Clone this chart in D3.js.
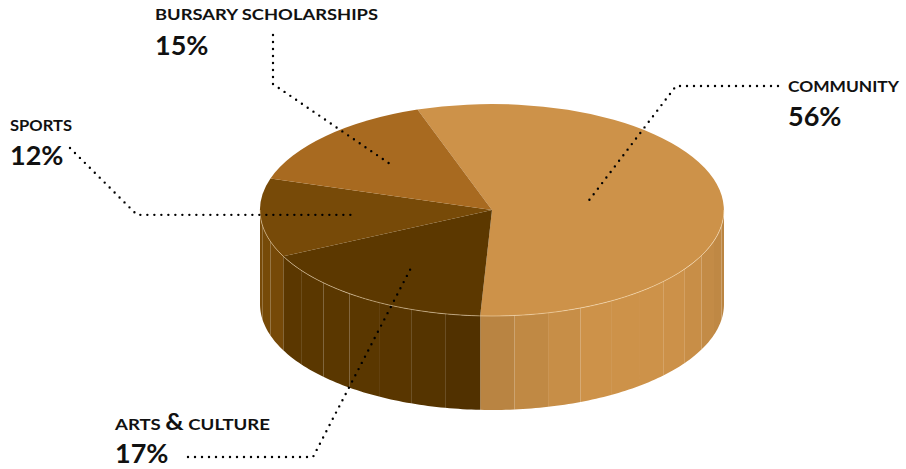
<!DOCTYPE html>
<html>
<head>
<meta charset="utf-8">
<script src="https://cdn.jsdelivr.net/npm/d3@7"></script>
<style>
  html, body { margin: 0; padding: 0; background: #ffffff; }
  svg { display: block; }
  text { font-family: "Lato", "Open Sans", sans-serif; font-weight: 700; fill: #111; }
</style>
</head>
<body>
<svg id="chart" width="906" height="469"></svg>
<script>
// ---- data ----
const categories = ["COMMUNITY", "ARTS & CULTURE", "SPORTS", "BURSARY SCHOLARSHIPS"];
const values = [56, 17, 12, 15];
const pctLabels = ["56%", "17%", "12%", "15%"];
const colors = ["#CD9249", "#5C3800", "#774A08", "#A86A20"];

// ---- layout ----
const W = 906, H = 469;
const cx = 492, cy = 210, rx = 232, ry = 106, depth = 94;
const startDeg = -18.7;
const deg = Math.PI / 180;

const svg = d3.select("#chart");

const pie = d3.pie().sort(null).value(d => d)
  .startAngle(startDeg * deg).endAngle(startDeg * deg + 2 * Math.PI);
const arcs = pie(values);

const P = (t, h) => [cx + rx * Math.sin(t), cy - ry * Math.cos(t) + (h || 0)];

// lighting factor along the side wall (angle in degrees, clockwise from top)
const shade = d3.scaleLinear()
  .domain([90, 130, 155, 186, 205, 270])
  .range([0.9, 1, 1, 0.87, 0.97, 1])
  .clamp(true);

// ---- side wall (front half only) ----
const sideG = svg.append("g");
const step = 9 * deg;
arcs.forEach((a, i) => {
  const s = Math.max(a.startAngle, Math.PI / 2);
  const e = Math.min(a.endAngle, 3 * Math.PI / 2);
  if (e <= s) return;
  const n = Math.max(1, Math.ceil((e - s) / step));
  const base = d3.color(colors[i]);
  for (let k = 0; k < n; k++) {
    const t0 = s + (e - s) * k / n, t1 = s + (e - s) * (k + 1) / n;
    const pts = [];
    const m = 8;
    for (let j = 0; j <= m; j++) pts.push(P(t0 + (t1 - t0) * j / m, 0));
    for (let j = m; j >= 0; j--) pts.push(P(t0 + (t1 - t0) * j / m, depth));
    const f = shade(((t0 + t1) / 2) / deg);
    const c = d3.rgb(base.r * f, base.g * f, base.b * f);
    sideG.append("path")
      .attr("d", "M" + pts.map(p => p.join(",")).join("L") + "Z")
      .attr("fill", c.formatHex());
  }
});

// ---- top surface ----
const arcGen = d3.arc().innerRadius(0).outerRadius(1);
svg.append("g")
  .attr("transform", `translate(${cx},${cy}) scale(${rx},${ry})`)
  .selectAll("path")
  .data(arcs)
  .join("path")
  .attr("d", arcGen)
  .attr("fill", (d, i) => colors[i]);

// rim highlight along the front top edge
const rimPts = d3.range(0, 181).map(k => P((90 + k) * deg, 0));
svg.append("path")
  .attr("d", d3.line()(rimPts))
  .attr("fill", "none")
  .attr("stroke", "rgba(255,232,195,0.55)")
  .attr("stroke-width", 0.9);

// ---- labels & leader lines ----
const labelLayout = [
  { x: 788, y1: 92, y2: 126, len: 111, frac: 0.41, route: (q) => [[778, 86], [676, 86], q] },
  { x: 115, y1: 430, y2: 463, len: 155, frac: 0.62, route: (q) => [[188, 457], [313, 457], q] },
  { x: 10, y1: 131, y2: 165, len: 62, frac: 0.61, route: (q) => [[70, 148], [137, q[1]], q] },
  { x: 155, y1: 20, y2: 55, len: 223, frac: 0.6, route: (q) => [[273, 35], [273, 84], q] }
];

const lineG = svg.append("g");
const textG = svg.append("g");

arcs.forEach((a, i) => {
  const L = labelLayout[i];
  const mid = (a.startAngle + a.endAngle) / 2;
  const q = [cx + rx * L.frac * Math.sin(mid), cy - ry * L.frac * Math.cos(mid)];
  lineG.append("path")
    .attr("d", d3.line()(L.route(q)))
    .attr("fill", "none")
    .attr("stroke", "#000")
    .attr("stroke-width", 2.4)
    .attr("stroke-linecap", "round")
    .attr("stroke-dasharray", "0,7");

  const name = categories[i];
  const t = textG.append("text")
    .attr("x", L.x).attr("y", L.y1)
    .attr("font-size", 16)
    .attr("textLength", L.len)
    .attr("lengthAdjust", "spacingAndGlyphs");
  if (name.includes("&")) {
    const parts = name.split("&");
    t.append("tspan").text(parts[0]);
    t.append("tspan").attr("font-size", 22).text("&");
    t.append("tspan").text(parts[1]);
  } else {
    t.text(name);
  }
  textG.append("text")
    .attr("x", L.x).attr("y", L.y2)
    .attr("font-size", 27)
    .text(pctLabels[i]);
});
</script>
</body>
</html>
